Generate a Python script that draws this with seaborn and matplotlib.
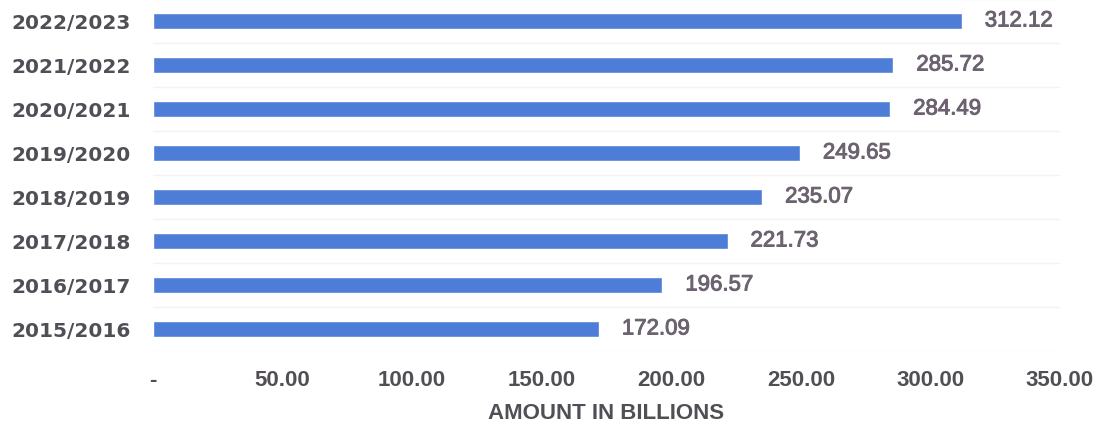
import matplotlib
matplotlib.use("Agg")
import matplotlib.pyplot as plt
import matplotlib.patheffects as pe
from matplotlib.ticker import FuncFormatter
import seaborn as sns
import numpy as np
import pandas as pd

# Fiscal years (top to bottom) and amounts in billions
years = ["2022/2023", "2021/2022", "2020/2021", "2019/2020",
         "2018/2019", "2017/2018", "2016/2017", "2015/2016"]
amounts = [312.12, 285.72, 284.49, 249.65, 235.07, 221.73, 196.57, 172.09]
x_ticks = [0, 50, 100, 150, 200, 250, 300, 350]

BAR = "#4d7dd6"
TICK_TXT = "#524e56"
VALUE_TXT = "#6c6270"

sns.set_theme(style="white")
df = pd.DataFrame({"year": years, "amount": amounts})

fig = plt.figure(figsize=(11.08, 4.23), dpi=100)
ax = fig.add_axes([153 / 1108, 72 / 423, 907 / 1108, 352 / 423])

sns.barplot(data=df, x="amount", y="year", orient="h", color=BAR,
            saturation=1, width=0.37, ax=ax)

ax.set_xlim(0, 350)
ax.set_ylim(len(years) - 0.5, -0.5)
ax.set_xticks(x_ticks)
ax.xaxis.set_major_formatter(FuncFormatter(lambda v, _: "-" if v == 0 else f"{v:.2f}"))

# faint separators between categories
ax.set_yticks(np.arange(-0.5, len(years), 1), minor=True)
ax.grid(False)
ax.grid(which="minor", axis="y", color="#f3f3f6", linewidth=1)
ax.tick_params(which="both", length=0)

for s in ax.spines.values():
    s.set_visible(False)

for lab in ax.get_xticklabels():
    lab.set_fontfamily("Liberation Sans")
    lab.set_fontweight("bold")
    lab.set_fontsize(16)
    lab.set_color(TICK_TXT)
ax.tick_params(axis="x", pad=14)

for lab in ax.get_yticklabels():
    lab.set_fontfamily("DejaVu Sans")
    lab.set_fontweight("bold")
    lab.set_fontsize(14.5)
    lab.set_color(TICK_TXT)
ax.tick_params(axis="y", pad=16)

ax.set_ylabel("")
ax.set_xlabel("AMOUNT IN BILLIONS", fontfamily="Liberation Sans",
              fontweight="bold", fontsize=16, color=TICK_TXT, labelpad=8)

# value labels, slightly heavier than regular weight
for i, v in enumerate(amounts):
    ax.annotate(f"{v:.2f}", xy=(v, i), xytext=(16.5, 0), textcoords="offset points",
                ha="left", va="center", fontfamily="Liberation Sans",
                fontsize=16, color=VALUE_TXT,
                path_effects=[pe.withStroke(linewidth=0.7, foreground=VALUE_TXT)])

fig.savefig("out.png", dpi=100, facecolor="white")
